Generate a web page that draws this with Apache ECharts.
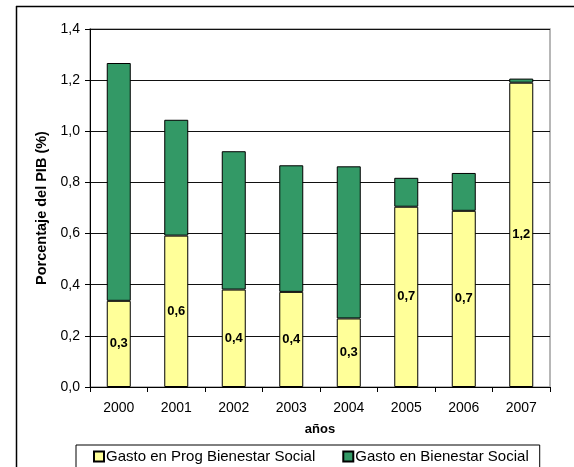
<!DOCTYPE html>
<html>
<head>
<meta charset="utf-8">
<script src="https://cdn.jsdelivr.net/npm/echarts@6/dist/echarts.min.js"></script>
<style>
html,body{margin:0;padding:0;background:#fff;}
#chart{width:574px;height:467px;}
</style>
</head>
<body>
<div id="chart"></div>
<script>
const categories = ['2000','2001','2002','2003','2004','2005','2006','2007'];
const progBienestar = [0.337, 0.592, 0.381, 0.372, 0.268, 0.705, 0.689, 1.190];
const bienestar = [0.930, 0.453, 0.541, 0.495, 0.595, 0.113, 0.148, 0.016];
const seriesNames = ['Gasto en Prog Bienestar Social', 'Gasto en Bienestar Social'];
const yTicks = { min: 0, max: 1.4, interval: 0.2 };

const fmt = v => v.toFixed(1).replace('.', ',');
const font = 'Liberation Sans, Arial, sans-serif';

const chart = echarts.init(document.getElementById('chart'), null, { renderer: 'canvas' });
chart.setOption({
  backgroundColor: '#fff',
  animation: false,
  textStyle: { fontFamily: font },
  graphic: [
    { type: 'line', shape: { x1: 16, y1: 6.5, x2: 574, y2: 6.5 }, style: { stroke: '#000', lineWidth: 1.5 } },
    { type: 'line', shape: { x1: 16.5, y1: 6, x2: 16.5, y2: 467 }, style: { stroke: '#000', lineWidth: 1.5 } },
    { type: 'rect', shape: { x: 90, y: 29, width: 460, height: 358 }, style: { fill: 'none', stroke: '#a0a0a0', lineWidth: 1.5 }, z: -1 }
  ],
  grid: { left: 90, right: 24, top: 29, bottom: 80, containLabel: false },
  legend: {
    left: 76, top: 445,
    data: seriesNames,
    itemWidth: 10, itemHeight: 10, itemGap: 27,
    icon: 'rect',
    borderColor: '#000', borderWidth: 1,
    padding: [4, 11, 10, 17],
    textStyle: { fontFamily: font, fontSize: 15, color: '#000', padding: [0, 0, 0, -3] }
  },
  xAxis: {
    type: 'category',
    data: categories,
    name: 'años',
    nameLocation: 'middle',
    nameGap: 36,
    nameTextStyle: { fontFamily: font, fontWeight: 'bold', fontSize: 13, color: '#000' },
    axisLine: { lineStyle: { color: '#000', width: 1 } },
    axisTick: { show: true, length: 5, inside: false, lineStyle: { color: '#000' } },
    axisLabel: { margin: 14, fontSize: 14, color: '#000', fontFamily: font }
  },
  yAxis: {
    type: 'value',
    min: yTicks.min, max: yTicks.max, interval: yTicks.interval,
    name: 'Porcentaje del PIB (%)',
    nameLocation: 'middle',
    nameGap: 40,
    nameTextStyle: { fontFamily: font, fontWeight: 'bold', fontSize: 14.5, color: '#000' },
    axisLine: { show: true, lineStyle: { color: '#000', width: 1 } },
    axisTick: { show: true, length: 5, lineStyle: { color: '#000' } },
    axisLabel: { margin: 10, fontSize: 14, color: '#000', fontFamily: font, formatter: v => fmt(v) },
    splitLine: { show: true, lineStyle: { color: '#111', width: 1 } }
  },
  series: [
    {
      name: seriesNames[0], type: 'bar', stack: 'total', barWidth: 24,
      data: progBienestar,
      itemStyle: { color: '#FFFF99', borderColor: '#000', borderWidth: 1 },
      label: { show: true, position: 'inside', fontWeight: 'bold', fontSize: 13, color: '#000', fontFamily: font,
               formatter: p => fmt(p.value) }
    },
    {
      name: seriesNames[1], type: 'bar', stack: 'total', barWidth: 24,
      data: bienestar,
      itemStyle: { color: '#339966', borderColor: '#000', borderWidth: 1 }
    }
  ]
});
</script>
</body>
</html>
